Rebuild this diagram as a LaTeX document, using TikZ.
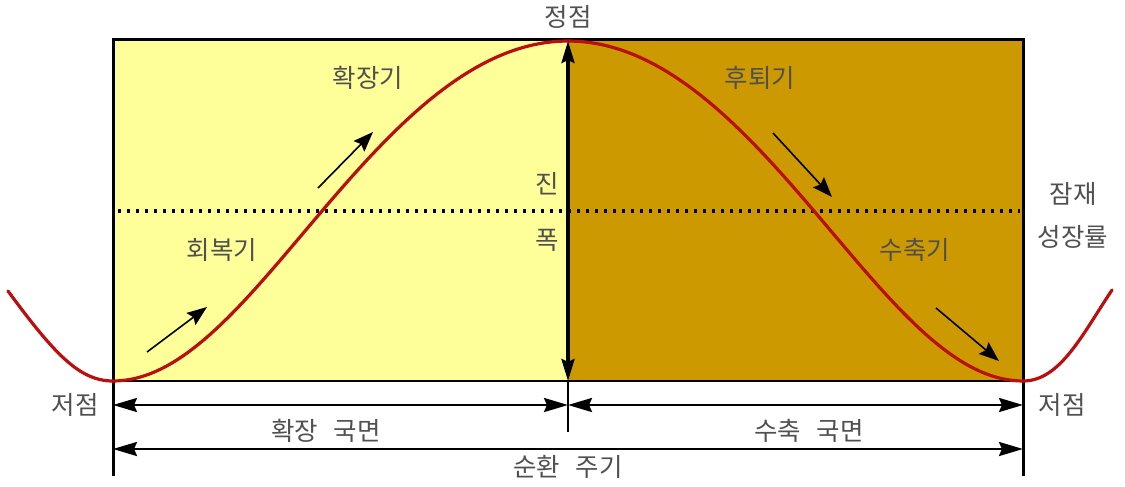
\documentclass[tikz,border=0pt]{standalone}
\usepackage{fontspec}
\newfontfamily\kr{Noto Sans CJK KR}
\usetikzlibrary{arrows.meta}
\definecolor{lightyel}{RGB}{255,255,153}
\definecolor{darkgold}{RGB}{204,153,0}
\definecolor{curvered}{RGB}{185,15,15}
\definecolor{txtgray}{RGB}{80,80,80}
\begin{document}
\begin{tikzpicture}[x=1pt,y=-1pt,
  lbl/.style={font=\kr\fontsize{25.5}{28}\selectfont, text=txtgray, inner sep=0pt},
  dim/.style={line width=2.6pt, {Stealth[length=24pt,width=14pt,inset=3pt]}-{Stealth[length=24pt,width=14pt,inset=3pt]}},
  amp/.style={line width=3.5pt, {Stealth[length=22pt,width=13pt,inset=3pt]}-{Stealth[length=22pt,width=13pt,inset=3pt]}},
  trend/.style={line width=1.6pt, -{Stealth[length=20pt,width=15pt,inset=3pt]}},
  frame/.style={line width=3pt},
  cycle/.style={line width=3.2pt, draw=curvered, line cap=round}]
\useasboundingbox (0,0) rectangle (1125,487);
% coordinates
\coordinate (TL) at (113,40);
\coordinate (TM) at (568,40);
\coordinate (TR) at (1023,40);
\coordinate (BL) at (113,381);
\coordinate (BM) at (568,381);
\coordinate (BR) at (1023,381);
\coordinate (LL) at (113,476);
\coordinate (RR) at (1023,476);
\coordinate (MT) at (568,432);
\coordinate (D1a) at (113,405);
\coordinate (D1b) at (568,405);
\coordinate (D1c) at (1023,405);
\coordinate (D2a) at (113,449);
\coordinate (D2b) at (1023,449);
\coordinate (G1) at (118,211);
\coordinate (G2) at (1020,211);
% fills
\fill[lightyel] (TL) rectangle (BM);
\fill[darkgold] (TM) rectangle (BR);
% dotted potential growth line
\draw[line width=3.2pt, dash pattern=on 3.2pt off 5.8pt] (G1) -- (G2);
% frame
\draw[frame] (LL) -- (TL) -- (TR) -- (RR);
\draw[line width=2.2pt] (BL) -- (BR);
% cycle curve
\draw[cycle] plot[domain=0:360, samples=150, variable=\t]
  ({113+2.52778*\t-18.5*sin(\t)}, {211+170*cos(\t)});
\draw[cycle] (8,291) .. controls (55,355) and (80,381) .. (BL);
\draw[cycle] (BR) .. controls (1060,381) and (1082,335) .. (1112,290);
% amplitude
\draw[amp] (BM) -- (568,41);
\draw[line width=1.6pt] (BM) -- (MT);
% dimension arrows
\draw[dim] (D1a) -- (D1b);
\draw[dim] (D1b) -- (D1c);
\draw[dim] (D2a) -- (D2b);
% trend arrows
\coordinate (A1s) at (147,352); \coordinate (A1e) at (207,307);
\coordinate (A2s) at (318,188); \coordinate (A2e) at (373,132);
\coordinate (A3s) at (773,133); \coordinate (A3e) at (832,197);
\coordinate (A4s) at (936,308); \coordinate (A4e) at (999,361);
\draw[trend] (A1s) -- (A1e);
\draw[trend] (A2s) -- (A2e);
\draw[trend] (A3s) -- (A3e);
\draw[trend] (A4s) -- (A4e);
% labels
\node[lbl] (peak) at (568,17) {정점};
\node[lbl] (exp) at (368,78) {확장기};
\node[lbl] (rec) at (760,78) {후퇴기};
\node[lbl] (amp1) at (547,184) {진};
\node[lbl] (amp2) at (547,240) {폭};
\node[lbl] (pot1) at (1073,194) {잠재};
\node[lbl] (pot2) at (1073,237) {성장률};
\node[lbl] (recov) at (222,250) {회복기};
\node[lbl] (contr) at (915,250) {수축기};
\node[lbl] (troughL) at (75,405) {저점};
\node[lbl] (troughR) at (1062,405) {저점};
\node[lbl] (expph) at (326,431) {확장\hspace{0.6em}국면};
\node[lbl] (conph) at (809,431) {수축\hspace{0.6em}국면};
\node[lbl] (cyc) at (568,467) {순환\hspace{0.6em}주기};
\end{tikzpicture}
\end{document}
